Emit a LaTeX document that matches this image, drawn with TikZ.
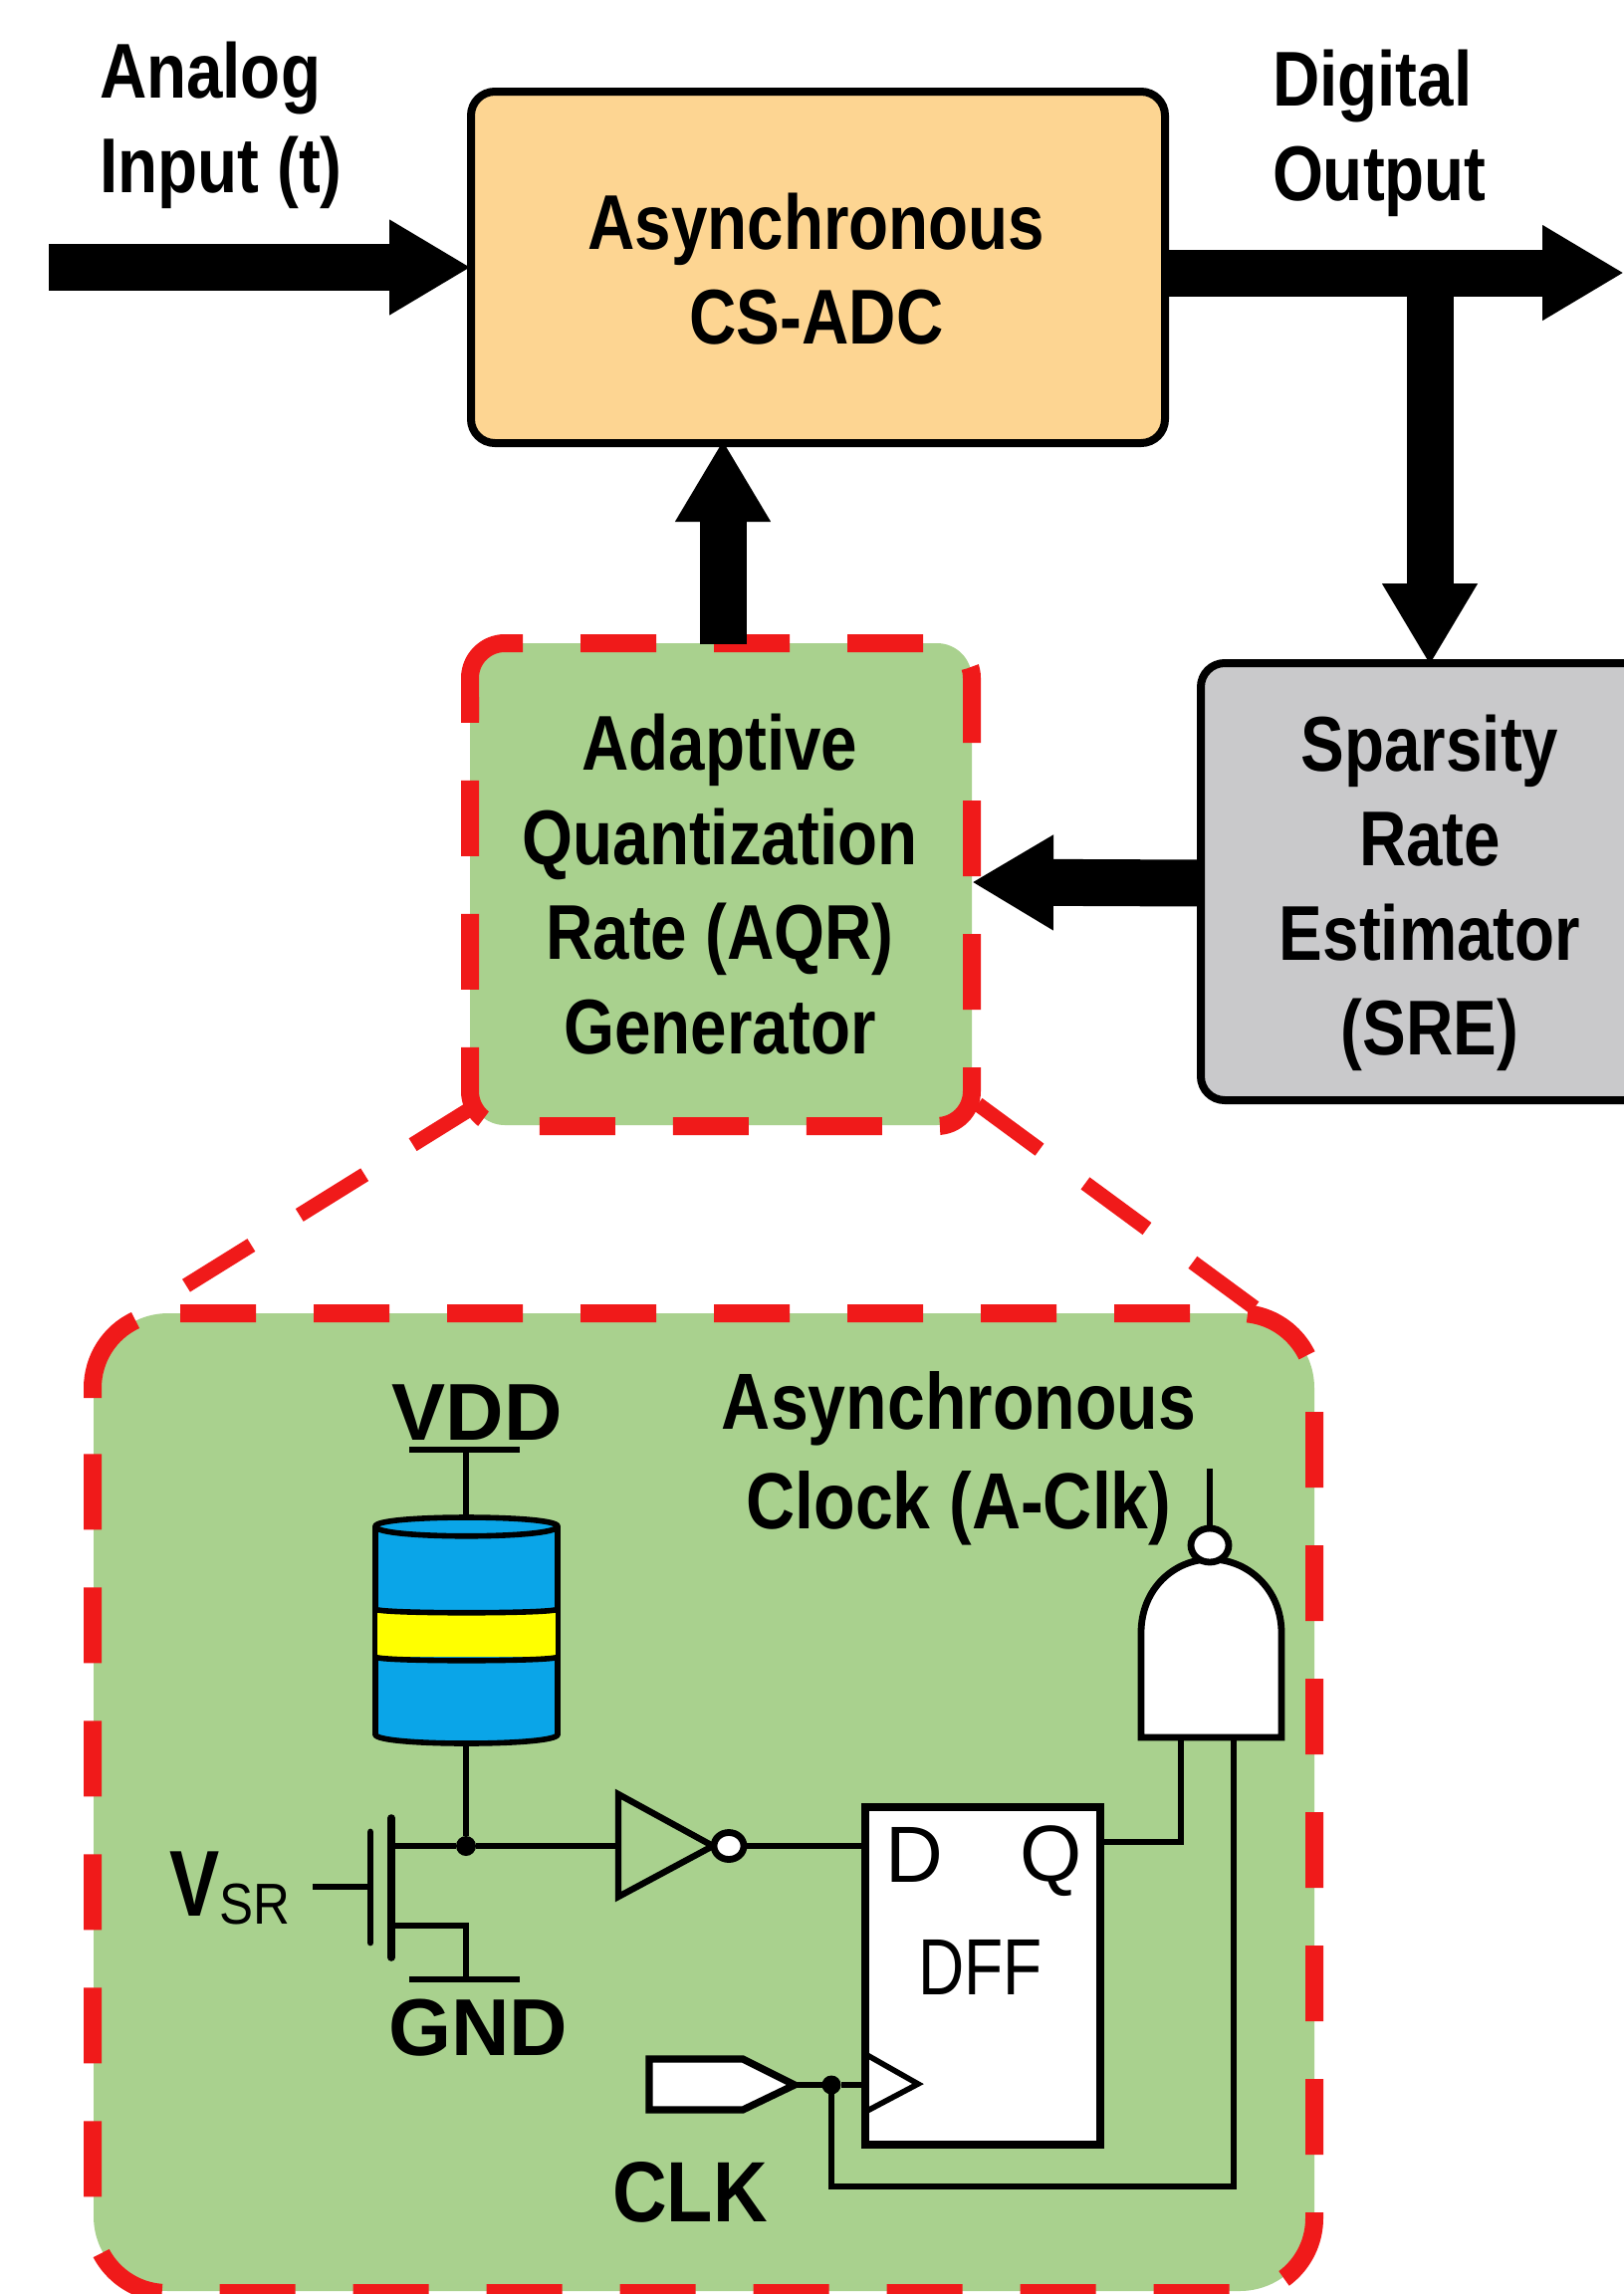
\documentclass[tikz,border=0pt]{standalone}
\usepackage{fontspec}
\usetikzlibrary{arrows.meta,calc,shapes.geometric}
\newfontfamily\lsa{Liberation Sans}[FakeStretch=0.84]
\newfontfamily\lsb{Liberation Sans}[FakeStretch=0.85]
\newfontfamily\lsc{Liberation Sans}[FakeStretch=1.0]
\newfontfamily\lsd{Liberation Sans}[FakeStretch=0.88]
\newfontfamily\lse{Liberation Sans}[FakeStretch=0.80]
\definecolor{adcfill}{HTML}{FDD592}
\definecolor{aqrgreen}{HTML}{A9D18E}
\definecolor{srcgray}{HTML}{C9C9CB}
\definecolor{redline}{HTML}{F01A1A}
\definecolor{cylblue}{HTML}{0AA5E8}
\definecolor{bandyellow}{HTML}{FFFF00}
\tikzset{
  x=0.5pt,y=-0.5pt,
  blockbox/.style={draw=black,line width=4pt,rounded corners=12pt,inner sep=0pt,outer sep=0pt},
  redsolid/.style={draw=redline,line width=9pt},
  redbord/.style={redsolid,dash pattern=on 38pt off 29pt},
  reddash/.style={draw=redline,line width=7.5pt,dash pattern=on 38.5pt off 28.5pt},
  thickarrow/.style={draw=black,line width=23.5pt,-{Triangle[length=41pt,width=45pt]}},
  wire/.style={draw=black,line width=2.8pt},
  bigtext/.style={font=\lsa\bfseries\fontsize{39}{47.6}\selectfont,align=center,inner sep=0pt,outer sep=0pt,text=black,anchor=base},
  lowtext/.style={font=\lsb\bfseries\fontsize{40}{50}\selectfont,align=center,inner sep=0pt,outer sep=0pt,anchor=base},
  rail/.style={font=\lsc\bfseries\fontsize{40.5}{48}\selectfont,inner sep=0pt,outer sep=0pt,anchor=base},
  thintext/.style={font=\lsc\fontsize{40}{48}\selectfont,inner sep=0pt,outer sep=0pt,anchor=base west},
  junction/.style={circle,fill=black,inner sep=0pt,outer sep=0pt,minimum size=10pt},
  bubble/.style={ellipse,draw=black,fill=white,line width=3.4pt,inner sep=0pt,outer sep=0pt},
}
\begin{document}
\begin{tikzpicture}
\useasboundingbox (0,0) rectangle (1631,2304);
\clip (0,0) rectangle (1631,2304);
\fill[white] (0,0) rectangle (1631,2304);

% big zoom panel
\fill[aqrgreen,rounded corners=37.5pt] (94,1319) rectangle (1320,2301);
\draw[redbord,rounded corners=37.5pt] (181,1319) -- (1320,1319) -- (1320,2303) -- (93,2303) -- (93,1420);
\draw[redsolid] (93,1404) -- (93,1394) .. controls (93,1365) and (109.6,1338.3) .. (136,1326);

% blocks
\node[blockbox,fill=adcfill,minimum width=348.5pt,minimum height=176.5pt] (adc) at (821.5,268.5) {};
\node[blockbox,fill=srcgray,minimum width=230pt,minimum height=219.5pt] (sre) at (1436,885.5) {};
\fill[aqrgreen,rounded corners=17.5pt] (472,646) rectangle (976,1130);
\coordinate (aqrE) at (976,886);
\coordinate (aqrBL) at (480,1109);
\coordinate (aqrBR) at (982,1109);
\coordinate (panelL) at (184,1293);
\coordinate (panelR) at (1262,1315);
\draw[reddash] (aqrBL) -- (panelL);
\draw[reddash] (aqrBR) -- (panelR);
\draw[redbord,rounded corners=17.5pt] (583,646) -- (976,646) -- (976,1131) -- (472,1131) -- (472,700);
\draw[redsolid,rounded corners=17.5pt] (472,723) -- (472,646) -- (525,646);

% thick arrows
\coordinate (inS) at (49,268.5);
\coordinate (outS) at (1170,274);
\coordinate (outT) at (1631,274);
\coordinate (brS) at (1436,274);
\coordinate (brT) at (1436,668);
\coordinate (upS) at (726,647);
\coordinate (upT) at (726,442);
\coordinate (fbS) at (1206,887);
\draw[thickarrow] (inS) -- (adc.west);
\draw[thickarrow] (outS) -- (outT);
\draw[thickarrow] (brS) -- (brT);
\draw[thickarrow] (upS) -- (upT);
\draw[thickarrow] (fbS) -- (aqrE);

% top labels
\node[bigtext,align=left,anchor=north west] (ain) at (100,42) {Analog\\Input (t)};
\node[bigtext,align=left,anchor=north west] (dout) at (1278,50) {Digital\\Output};
\node[bigtext,anchor=center] (adct) at (820,270) {Asynchronous\\CS-ADC};
\node[bigtext,anchor=center] (aqrt) at (723,888) {Adaptive\\Quantization\\Rate (AQR)\\Generator};
\node[bigtext,anchor=center] (sret) at (1436,897) {Sparsity\\Rate\\Estimator\\(SRE)};

% supply rails and cylinder
\coordinate (vddL) at (411,1456); \coordinate (vddR) at (522,1456); \coordinate (vddM) at (468,1456);
\coordinate (gndL) at (411,1988); \coordinate (gndR) at (522,1988); \coordinate (gndM) at (468,1988);
\node[rail] (vdd) at (479,1446) {VDD};
\node[rail] (gnd) at (480,2064) {GND};
\draw[wire] (vddL) -- (vddR);
\draw[wire] (gndL) -- (gndR);
\coordinate (cylT) at (468,1524);
\coordinate (cylB) at (468,1750);
\draw[wire] (vddM) -- (cylT);
\filldraw[fill=cylblue,draw=black,line width=2.8pt] (377,1533) .. controls (377,1521) and (560,1521) .. (560,1533) -- (560,1742) .. controls (560,1754) and (377,1754) .. (377,1742) -- cycle;
\fill[bandyellow] (379,1618) -- (558,1618) -- (558,1664) -- (379,1664) -- cycle;
\draw[black,line width=2.8pt] (377,1533) .. controls (377,1546) and (560,1546) .. (560,1533);
\draw[black,line width=2.8pt] (377,1616) .. controls (377,1621) and (560,1621) .. (560,1616);
\draw[black,line width=2.8pt] (377,1664) .. controls (377,1669) and (560,1669) .. (560,1664);

% NMOS
\coordinate (dnode0) at (393,1854);
\node[junction] (jn) at (468,1854) {};
\coordinate (gateW) at (314,1895);
\coordinate (gateP) at (372,1895);
\coordinate (srcP) at (393,1934);
\draw[wire] (cylB) -- (jn);
\draw[wire] (dnode0) -- (jn);
\draw[wire] (gateW) -- (gateP);
\draw[black,line width=3.4pt,line cap=round] (372,1840) -- (372,1951);
\draw[black,line width=3.8pt,line cap=round] (393,1826) -- (393,1966);
\draw[wire] (srcP) -| (gndM);
\node[inner sep=0pt,outer sep=0pt,anchor=base west,font=\lse\bfseries\fontsize{47}{50}\selectfont] (vsr) at (170,1924) {V\raisebox{-4pt}{\lsd\mdseries\fontsize{29}{30}\selectfont SR}};

% inverter
\coordinate (invIn) at (621,1854);
\coordinate (invT) at (716,1854);
\draw[wire] (jn) -- (invIn);
\draw[draw=black,line width=3.2pt,line join=miter] (621,1802) -- (invT) -- (621,1905) -- cycle;
\node[bubble,minimum width=15pt,minimum height=13.5pt] (invB) at (732,1854) {};

% DFF
\node[draw=black,fill=white,line width=3.6pt,minimum width=118pt,minimum height=169.5pt,inner sep=0pt,outer sep=0pt] (dff) at (987,1984.5) {};
\draw[wire] (invB.east) -- (dff.west |- invB.east);
\node[thintext] (dl) at (889,1890) {D};
\node[thintext] (ql) at (1024,1889) {Q};
\node[thintext,font=\lse\fontsize{40}{48}\selectfont] (dffl) at (922,2003) {DFF};
\draw[black,line width=2.8pt,line join=miter] (869,2063) -- (922,2093) -- (869,2121);

% CLK
\node[draw=none,inner sep=0pt,outer sep=0pt,minimum size=0pt] (clkT) at (798,2094) {};
\filldraw[fill=white,draw=black,line width=3.6pt,line join=miter] (652,2068) -- (746,2068) -- (clkT.center) -- (746,2119) -- (652,2119) -- cycle;
\node[junction,minimum size=9.5pt] (jc) at (835,2094) {};
\coordinate (dffClk) at (869,2094);
\draw[wire] (clkT) -- (jc);
\draw[wire] (jc) -- (dffClk);
\node[lowtext,font=\lsd\bfseries\fontsize{43}{48}\selectfont] (clkl) at (693,2231) {CLK};

% NAND
\filldraw[fill=white,draw=black,line width=3.4pt,line join=miter] (1146,1745) -- (1146,1640) .. controls (1146,1595) and (1180,1566) .. (1216,1566) .. controls (1252,1566) and (1287,1595) .. (1287,1640) -- (1287,1745) -- cycle;
\coordinate (nandA) at (1186,1745);
\coordinate (nandB) at (1239,1745);
\coordinate (qOut) at (1107,1850);
\coordinate (fbCorner) at (835,2196);
\coordinate (fbDown) at (1239,2196);
\coordinate (nandOut) at (1215,1475);
\node[bubble,minimum width=19pt,minimum height=17pt] (nandB2) at (1215,1552) {};
\draw[wire] (qOut) -| (nandA);
\draw[wire] (nandB) -- (fbDown) -- (fbCorner) -- (jc.center);
\draw[wire] (nandB2.north) -- (nandOut);
\node[lowtext,anchor=center] (aclk) at (963,1465) {Asynchronous\\Clock (A-Clk)};
\end{tikzpicture}
\end{document}
